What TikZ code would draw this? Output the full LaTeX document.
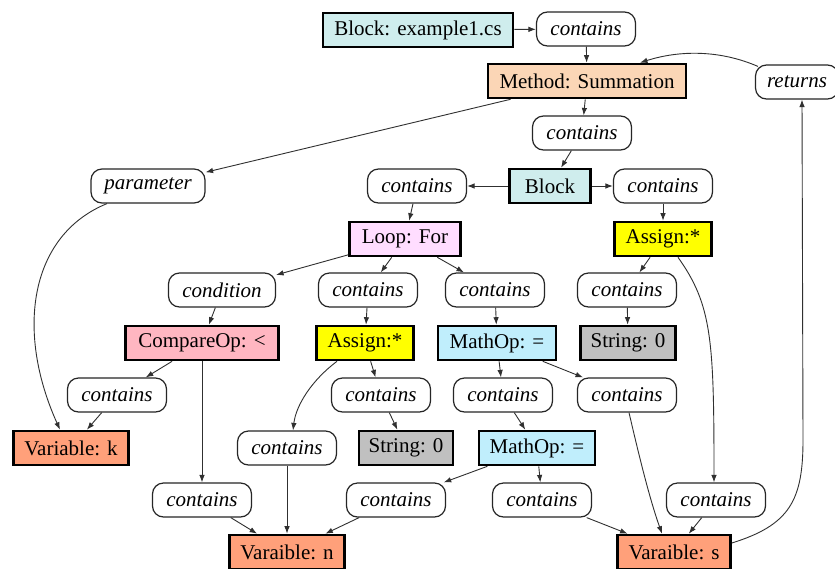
\documentclass[tikz,border=0pt]{standalone}
\usepackage{fontspec}
\setmainfont{Liberation Serif}
\usetikzlibrary{arrows.meta,calc}
\definecolor{cBlock}{HTML}{CFEDED}
\definecolor{cMeth}{HTML}{FBD6B6}
\definecolor{cLoop}{HTML}{FFDDFF}
\definecolor{cYel}{HTML}{FFFF00}
\definecolor{cPink}{HTML}{FFB6C1}
\definecolor{cMath}{HTML}{C0EEFC}
\definecolor{cGray}{HTML}{C0C0C0}
\definecolor{cVar}{HTML}{FFA07A}
\definecolor{cLine}{HTML}{303030}
\begin{document}
\begin{tikzpicture}[x=1pt,y=-1pt,
  base/.style={inner sep=0pt, minimum height=34pt, font=\fontsize{21}{24}\selectfont},
  bx/.style={base, draw=black, line width=2.6pt},
  rl/.style={base, draw=black!85, line width=1.2pt, rounded corners=11pt, minimum width=99pt, fill=white, font=\fontsize{21}{24}\selectfont\itshape},
  arr/.style={draw=cLine, line width=0.9pt, -{Latex[length=7.5pt,width=5.5pt]}}]
\clip (0,0) rectangle (835,568);
\fill[white] (0,0) rectangle (835,568);
% nodes
\node[bx, fill=cBlock, minimum width=190pt] (b0) at (418,30) {Block: example1.cs};
\node[rl] (c0) at (586,29) {contains};
\node[bx, fill=cMeth, minimum width=198pt] (meth) at (587,81) {Method: Summation};
\node[rl, minimum width=83pt] (ret) at (797,82) {returns};
\node[rl] (c1) at (582,133) {contains};
\node[rl, minimum width=114pt] (par) at (148,186) {parameter};
\node[bx, fill=cBlock, minimum width=81pt] (blk) at (550,186) {Block};
\node[rl] (cL) at (417,186) {contains};
\node[rl] (cR) at (663,186) {contains};
\node[bx, fill=cLoop, minimum width=111pt] (loop) at (405,239) {Loop: For};
\node[bx, fill=cYel, minimum width=97pt] (asR) at (663,239) {Assign:*};
\node[rl, minimum width=107pt] (cond) at (222,290) {condition};
\node[rl] (cLm) at (368,290) {contains};
\node[rl] (cLr) at (495,290) {contains};
\node[rl] (cAr) at (627,290) {contains};
\node[bx, fill=cPink, minimum width=153pt] (cmp) at (202,343) {CompareOp: <};
\node[bx, fill=cYel, minimum width=97pt] (asM) at (365,343) {Assign:*};
\node[bx, fill=cMath, minimum width=118pt] (m1) at (497,343) {MathOp: =};
\node[bx, fill=cGray, minimum width=95pt] (s1) at (628,343) {String: 0};
\node[rl] (cCmp) at (117,395) {contains};
\node[rl] (cAs) at (381,395) {contains};
\node[rl] (cM1l) at (503,395) {contains};
\node[rl] (cM1r) at (627,395) {contains};
\node[bx, fill=cVar, minimum width=115pt] (vk) at (71,448) {Variable: k};
\node[rl] (cAs2) at (287,448) {contains};
\node[bx, fill=cGray, minimum width=94pt] (s2) at (406,448) {String: 0};
\node[bx, fill=cMath, minimum width=116pt] (m2) at (537,448) {MathOp: =};
\node[rl] (cCmp2) at (202,500) {contains};
\node[rl] (cM2l) at (396,500) {contains};
\node[rl] (cM2r) at (542,500) {contains};
\node[rl] (cAr2) at (716,500) {contains};
\node[bx, fill=cVar, minimum width=115pt] (vn) at (287,552) {Varaible: n};
\node[bx, fill=cVar, minimum width=113pt] (vs) at (674,552) {Varaible: s};
% straight edges
\draw[arr] (b0) -- (c0);
\draw[arr] (c0) -- (meth);
\draw[arr] (meth) -- (c1);
\draw[arr] (meth) -- (par);
\draw[arr] (c1) -- (blk);
\draw[arr] (blk) -- (cL);
\draw[arr] (blk) -- (cR);
\draw[arr] (cL) -- (loop);
\draw[arr] (cR) -- (asR);
\draw[arr] (loop) -- (cond);
\draw[arr] (loop) -- (cLm);
\draw[arr] (loop) -- (cLr);
\draw[arr] (asR) -- (cAr);
\draw[arr] (cond) -- (cmp);
\draw[arr] (cLm) -- (asM);
\draw[arr] (cLr) -- (m1);
\draw[arr] (cAr) -- (s1);
\draw[arr] (cmp) -- (cCmp);
\draw[arr] (cmp) -- (cCmp2);
\draw[arr] (asM) -- (cAs);
\draw[arr] (m1) -- (cM1l);
\draw[arr] (m1) -- (cM1r);
\draw[arr] (cCmp) -- (vk);
\draw[arr] (cAs) -- (s2);
\draw[arr] (cM1l) -- (m2);
\draw[arr] (m2) -- (cM2l);
\draw[arr] (m2) -- (cM2r);
\draw[arr] (cCmp2) -- (vn);
\draw[arr] (cAs2) -- (vn);
\draw[arr] (cM2l) -- (vn);
\draw[arr] (cM2r) -- (vs);
\draw[arr] (cAr2) -- (vs);
% curved edges
\draw[arr] ($(par.south)+(-41,0)$) .. controls (30,235) and (15,330) .. ($(vk.north)+(-11,0)$);
\draw[arr] ($(asM.south)+(-28,0)$) .. controls (312,380) and (296,405) .. ($(cAs2.north)+(6,0)$);
\draw[arr] ($(cM1r.south)+(2,0)$) .. controls (640,460) and (650,500) .. ($(vs.north)+(-12,0)$);
\draw[arr] ($(asR.south)+(15,0)$) .. controls (712,305) and (714,340) .. ($(cAr2.north)+(-2,0)$);
\draw[arr] ($(vs.east)+(0,-9)$) .. controls (790,525) and (803,500) .. (803,440) -- ($(ret.south)+(5,0)$);
\draw[arr] ($(ret.north west)+(3,2)$) .. controls (720,50) and (680,50) .. ($(meth.north)+(53,0)$);
\end{tikzpicture}
\end{document}
